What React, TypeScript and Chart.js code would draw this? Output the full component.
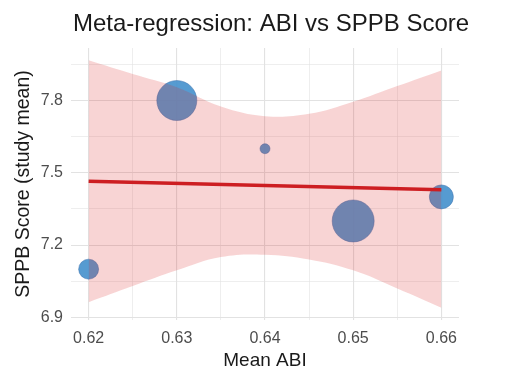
import React, { useEffect, useRef } from "react";
import { Chart, registerables } from "chart.js";

Chart.register(...registerables);

// Study-level data
const studyABI = [0.62, 0.63, 0.64, 0.65, 0.66];
const studySPPB = [7.1, 7.8, 7.6, 7.3, 7.4];
const studyRadius = [10, 20, 5, 21, 12];

// Regression fit line
const fitX = [0.62, 0.66];
const fitY = [7.465, 7.43];

// Confidence band
const bandX = [0.62, 0.625, 0.63, 0.635, 0.64, 0.645, 0.65, 0.655, 0.66];
const bandUpper = [7.967, 7.91, 7.855, 7.775, 7.735, 7.745, 7.795, 7.86, 7.925];
const bandLower = [6.963, 7.03, 7.095, 7.15, 7.16, 7.14, 7.095, 7.02, 6.94];

// Axis ticks
const xMajorTicks = [0.62, 0.63, 0.64, 0.65, 0.66];
const xMinorTicks = [0.625, 0.635, 0.645, 0.655];
const yMajorTicks = [6.9, 7.2, 7.5, 7.8];
const yMinorTicks = [7.05, 7.35, 7.65, 7.95];

const FONT = "'Liberation Sans', Arial, sans-serif";

const isMajor = (v: number, majors: number[]) => majors.some((m) => Math.abs(m - v) < 1e-9);

export default function App() {
  const ref = useRef<HTMLCanvasElement | null>(null);

  useEffect(() => {
    document.body.style.margin = "0";
    const canvas = ref.current;
    if (!canvas) return;

    const titlePlugin = {
      id: "customTitle",
      afterDraw(chart: any) {
        const ctx = chart.ctx;
        ctx.save();
        ctx.font = `24px ${FONT}`;
        ctx.fillStyle = "#1a1a1a";
        ctx.textAlign = "center";
        ctx.textBaseline = "middle";
        ctx.fillText("Meta-regression: ABI vs SPPB Score", 271, 24);
        ctx.restore();
      },
    };

    const xTicks = [...xMajorTicks, ...xMinorTicks].sort((a, b) => a - b);
    const yTicks = [...yMajorTicks, ...yMinorTicks].sort((a, b) => a - b);

    const chart = new Chart(canvas, {
      type: "line",
      data: {
        datasets: [
          {
            type: "line",
            label: "fit",
            data: fitX.map((x, i) => ({ x, y: fitY[i] })),
            borderColor: "rgb(205,30,34)",
            borderWidth: 3.5,
            pointRadius: 0,
            fill: false,
            order: 0,
          },
          {
            type: "line",
            label: "upper",
            data: bandX.map((x, i) => ({ x, y: bandUpper[i] })),
            borderWidth: 0,
            borderColor: "rgba(0,0,0,0)",
            backgroundColor: "rgba(220,40,40,0.2)",
            pointRadius: 0,
            tension: 0.4,
            fill: "+1",
            order: 1,
          },
          {
            type: "line",
            label: "lower",
            data: bandX.map((x, i) => ({ x, y: bandLower[i] })),
            borderWidth: 0,
            borderColor: "rgba(0,0,0,0)",
            pointRadius: 0,
            tension: 0.4,
            fill: false,
            order: 1,
          },
          {
            type: "bubble",
            label: "studies",
            data: studyABI.map((x, i) => ({ x, y: studySPPB[i], r: studyRadius[i] })),
            backgroundColor: "rgba(72,146,205,0.92)",
            borderColor: "rgba(60,110,170,0.6)",
            borderWidth: 0.8,
            order: 2,
          } as any,
        ],
      },
      options: {
        animation: false,
        responsive: false,
        maintainAspectRatio: false,
        layout: { padding: { top: 48, right: 46, left: 0, bottom: 0 } },
        plugins: {
          legend: { display: false },
          tooltip: { enabled: false },
          title: { display: false },
        },
        scales: {
          x: {
            type: "linear",
            min: 0.618,
            max: 0.662,
            border: { display: false },
            grid: {
              drawTicks: false,
              color: "rgba(226,226,226,1)",
              lineWidth: (c: any) => (isMajor(c.tick?.value, xMajorTicks) ? 1.1 : 0.6),
            },
            ticks: {
              padding: 9,
              color: "#4d4d4d",
              font: { family: FONT, size: 16 },
              autoSkip: false,
              maxRotation: 0,
              callback: (v: any) => (isMajor(Number(v), xMajorTicks) ? Number(v).toFixed(2) : ""),
            },
            afterBuildTicks: (s: any) => {
              s.ticks = xTicks.map((value) => ({ value }));
            },
            afterFit: (s: any) => {
              s.height = 50;
            },
            title: {
              display: true,
              text: "Mean ABI",
              color: "#1a1a1a",
              font: { family: FONT, size: 19 },
              padding: { top: 0, bottom: -2.5 },
            },
          },
          y: {
            type: "linear",
            min: 6.889,
            max: 8.018,
            border: { display: false },
            grid: {
              drawTicks: false,
              color: "rgba(226,226,226,1)",
              lineWidth: (c: any) => (isMajor(c.tick?.value, yMajorTicks) ? 1.1 : 0.6),
            },
            ticks: {
              padding: 8,
              color: "#4d4d4d",
              font: { family: FONT, size: 16 },
              autoSkip: false,
              callback: (v: any) => (isMajor(Number(v), yMajorTicks) ? Number(v).toFixed(1) : ""),
            },
            afterBuildTicks: (s: any) => {
              s.ticks = yTicks.map((value) => ({ value }));
            },
            afterFit: (s: any) => {
              s.width = 71;
            },
            title: {
              display: true,
              text: "SPPB Score (study mean)",
              color: "#1a1a1a",
              font: { family: FONT, size: 19.5 },
              padding: { top: 12, bottom: 0 },
            },
          },
        },
      },
      plugins: [titlePlugin],
    });

    return () => chart.destroy();
  }, []);

  return (
    <div style={{ position: "absolute", left: 0, top: 0, width: 505, height: 370, background: "#fff" }}>
      <canvas ref={ref} width={505} height={370} style={{ width: 505, height: 370, display: "block" }} />
    </div>
  );
}
